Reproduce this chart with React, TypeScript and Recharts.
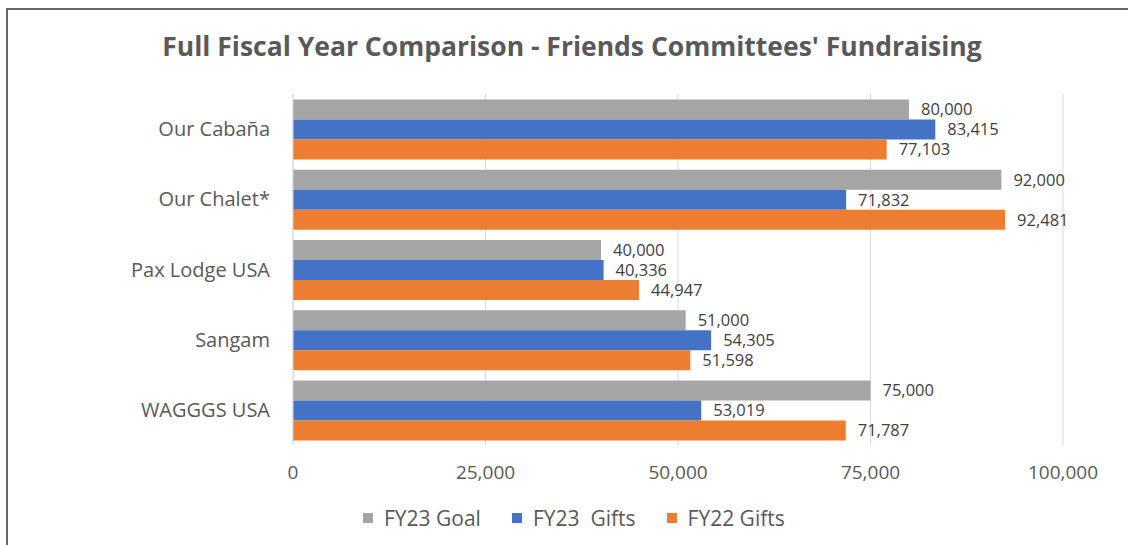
import { BarChart, Bar, XAxis, YAxis, CartesianGrid, Legend, LabelList } from "recharts";

const committees = ["Our Cabaña", "Our Chalet*", "Pax Lodge USA", "Sangam", "WAGGGS USA"];
const fy23Goal = [80000, 92000, 40000, 51000, 75000];
const fy23Gifts = [83415, 71832, 40336, 54305, 53019];
const fy22Gifts = [77103, 92481, 44947, 51598, 71787];
const xTicks = [0, 25000, 50000, 75000, 100000];

const seriesInfo = [
  { key: "goal23", label: "FY23 Goal", color: "#A5A5A5" },
  { key: "gifts23", label: "FY23  Gifts", color: "#4472C4" },
  { key: "gifts22", label: "FY22 Gifts", color: "#ED7D31" },
];

const data = committees.map((name, i) => ({
  name,
  goal23: fy23Goal[i],
  gifts23: fy23Gifts[i],
  gifts22: fy22Gifts[i],
}));

const font = "'Open Sans', 'Liberation Sans', sans-serif";
const fmt = (v: any) => Number(v).toLocaleString("en-US");

function LegendBox() {
  return (
    <div style={{ display: "flex", alignItems: "center", fontFamily: font, fontSize: 21, color: "#595959", lineHeight: "28px" }}>
      {seriesInfo.map((s) => (
        <div key={s.key} style={{ display: "flex", alignItems: "center", marginRight: 31 }}>
          <span style={{ width: 10, height: 10, background: s.color, display: "inline-block", marginRight: 11 }} />
          <span style={{ whiteSpace: "pre" }}>{s.label}</span>
        </div>
      ))}
    </div>
  );
}

export default function App() {
  return (
    <div style={{ position: "absolute", left: 0, top: 0, width: 1128, height: 545, background: "#fff" }}>
      <div
        style={{
          position: "absolute",
          left: 6,
          top: 8,
          right: 0,
          bottom: 0,
          borderLeft: "2px solid #666",
          borderTop: "2px solid #666",
        }}
      />
      <div
        style={{
          position: "absolute",
          left: 0,
          width: 1144,
          top: 28,
          textAlign: "center",
          fontFamily: font,
          fontWeight: 700,
          fontSize: 26.5,
          color: "#595959",
        }}
      >
        Full Fiscal Year Comparison - Friends Committees' Fundraising
      </div>
      <BarChart
        width={1128}
        height={545}
        data={data}
        layout="vertical"
        margin={{ top: 94, right: 65, left: 93, bottom: 42 }}
        barCategoryGap="8%"
        barGap={0}
      >
        <CartesianGrid horizontal={false} stroke="#d9d9d9" />
        <XAxis
          type="number"
          domain={[0, 100000]}
          ticks={xTicks}
          tickFormatter={fmt}
          axisLine={false}
          tickLine={false}
          height={30}
          tickMargin={15}
          tick={{ fontSize: 19, fill: "#595959", fontFamily: font }}
        />
        <YAxis
          type="category"
          dataKey="name"
          width={200}
          tickLine={false}
          axisLine={{ stroke: "#d9d9d9" }}
          tickSize={8}
          tickMargin={15}
          tick={{ fontSize: 20, fill: "#595959", fontFamily: font }}
        />
        <Legend
          verticalAlign="bottom"
          content={() => <LegendBox />}
          wrapperStyle={{ left: 363, bottom: 13, width: "auto" }}
        />
        {seriesInfo.map((s) => (
          <Bar key={s.key} dataKey={s.key} name={s.label} fill={s.color} isAnimationActive={false}>
            <LabelList
              dataKey={s.key}
              position="right"
              offset={12}
              formatter={fmt}
              style={{ fontSize: 16.5, fill: "#404040", fontFamily: font }}
            />
          </Bar>
        ))}
      </BarChart>
    </div>
  );
}
